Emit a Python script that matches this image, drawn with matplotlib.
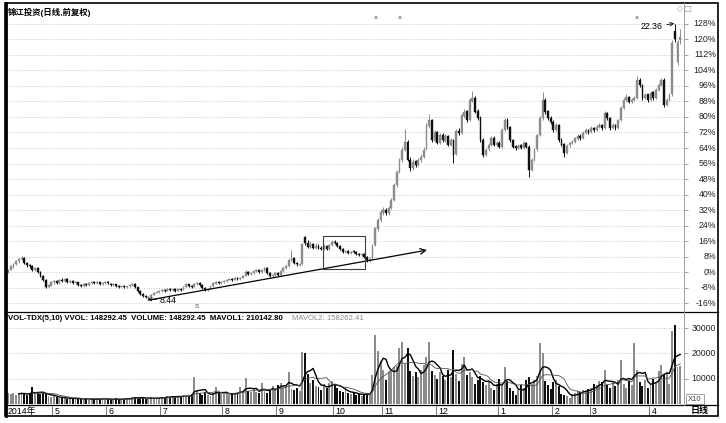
import matplotlib
matplotlib.use('Agg')
import matplotlib.pyplot as plt
from matplotlib.patches import Rectangle
from matplotlib.lines import Line2D
import matplotlib.transforms as mtransforms
import numpy as np
import pandas as pd

plt.rcParams['font.family'] = ['Liberation Sans', 'Noto Sans CJK SC', 'DejaVu Sans']

# ---- data ----
title = '锦江投资(日线,前复权)'
base_price = 9.80          # price at 0%
pct_ticks = list(range(-16, 129, 8))
vol_ticks = [10000, 20000, 30000]
month_labels = ['5', '6', '7', '8', '9', '10', '11', '12', '1', '2', '3', '4']
month_start = [17, 37, 57, 80, 100, 121, 139, 159, 182, 202, 216, 238]

opens = [
    9.82, 9.92, 10.08, 10.22, 10.34, 10.45, 10.50, 10.28, 10.18, 10.12, 9.88, 10.02, 9.82, 9.62, 9.42, 9.02, 9.12, 9.28,
    9.34, 9.25, 9.41, 9.34, 9.44, 9.30, 9.34, 9.25, 9.28, 9.15, 9.10, 9.20, 9.15, 9.23, 9.30, 9.23, 9.28, 9.18, 9.25, 9.30,
    9.22, 9.13, 9.18, 9.10, 9.05, 9.10, 9.04, 9.08, 9.15, 9.20,
    9.02, 8.85, 8.70, 8.60, 8.50, 8.55, 8.65, 8.75, 8.78, 8.84, 8.90, 8.84, 8.94, 8.88, 8.95, 8.84, 8.95,
    8.90, 9.05, 9.18, 9.10, 9.05, 9.18, 9.25, 9.15, 9.00, 8.88, 8.95, 9.08, 9.22, 9.30, 9.23, 9.28, 9.34, 9.40, 9.46, 9.40,
    9.50, 9.44, 9.50, 9.60, 9.82, 9.68, 9.74, 9.86, 9.92, 9.78, 9.88, 10.02, 9.76, 9.58, 9.66, 9.76, 9.64, 9.86, 10.02, 10.12,
    10.40, 10.50, 10.25, 10.18,
    10.22, 11.55, 11.28, 11.05, 11.20, 11.00, 11.14, 11.00, 10.95, 11.14, 10.95, 11.16, 11.34, 11.26, 11.12, 10.97, 10.80,
    10.88, 10.75, 10.82, 10.82, 10.72, 10.65, 10.72, 10.57, 10.40,
    10.50, 11.15, 12.00, 12.45, 12.80, 12.96, 12.78, 13.02, 13.45, 14.18, 14.88, 15.45, 15.98, 16.40, 15.45, 15.05, 15.40,
    15.20, 15.45, 15.60, 16.00, 17.20, 17.50, 16.45, 16.90, 16.30,
    16.75, 16.45, 16.70, 16.20, 16.50, 15.75, 16.95, 16.85, 17.70, 17.92, 17.50, 18.45, 18.62, 17.92, 17.60, 16.50, 15.70,
    16.00, 16.20, 16.60, 16.20, 16.35, 16.10, 17.00, 17.50, 17.15, 16.50, 16.15, 16.05, 16.20, 16.05, 16.35,
    16.10, 14.98, 15.45, 16.00, 16.75, 17.60, 18.50, 17.92, 17.60, 17.40, 17.00, 17.25, 16.50, 16.25, 15.80, 16.20, 16.35,
    16.40, 16.55, 16.70, 16.60, 16.85, 17.00, 16.90, 17.10, 17.00, 17.15, 17.25,
    17.10, 17.85, 17.60, 17.10, 17.25, 17.10, 17.50, 18.10, 18.50, 18.65, 18.40, 18.50, 18.60, 19.50, 19.25, 18.60, 18.78,
    18.50, 18.88, 18.60, 19.00, 19.25, 19.50, 18.25, 18.50, 18.80, 22.00, 20.40, 21.55,
]
highs = [
    9.98, 10.18, 10.28, 10.42, 10.52, 10.62, 10.55, 10.32, 10.22, 10.15, 10.08, 10.05, 9.85, 9.66, 9.45, 9.20, 9.35, 9.42,
    9.40, 9.46, 9.48, 9.52, 9.48, 9.40, 9.38, 9.33, 9.32, 9.20, 9.24, 9.24, 9.28, 9.34, 9.33, 9.33, 9.30, 9.28, 9.33, 9.34,
    9.26, 9.23, 9.22, 9.14, 9.12, 9.14, 9.12, 9.18, 9.24, 9.23,
    9.05, 8.88, 8.74, 8.64, 8.60, 8.68, 8.78, 8.84, 8.88, 8.94, 8.93, 8.98, 8.97, 8.98, 8.97, 8.98, 8.98,
    9.08, 9.24, 9.22, 9.14, 9.24, 9.30, 9.28, 9.18, 9.04, 8.98, 9.12, 9.28, 9.34, 9.33, 9.34, 9.39, 9.44, 9.50, 9.50, 9.54,
    9.54, 9.55, 9.65, 9.90, 9.84, 9.80, 9.90, 9.98, 9.95, 9.95, 10.06, 10.05, 9.80, 9.72, 9.80, 9.80, 9.90, 10.05, 10.18, 10.48,
    10.90, 10.55, 10.32, 10.28,
    11.25, 11.60, 11.40, 11.35, 11.28, 11.25, 11.20, 11.10, 11.20, 11.18, 11.24, 11.42, 11.40, 11.30, 11.16, 11.00, 10.94,
    10.92, 10.86, 10.90, 10.88, 10.78, 10.76, 10.76, 10.62, 10.55,
    11.20, 12.10, 12.55, 12.98, 13.10, 13.05, 13.12, 13.55, 14.30, 14.98, 15.55, 16.10, 17.05, 16.50, 15.60, 15.50, 15.45,
    15.55, 15.75, 16.10, 17.35, 17.80, 17.55, 17.00, 16.95, 16.85,
    16.85, 16.80, 16.75, 16.60, 16.55, 17.05, 17.10, 17.85, 18.05, 18.00, 18.60, 18.95, 18.70, 18.05, 17.70, 16.60, 16.05,
    16.30, 16.70, 16.70, 16.45, 16.45, 17.10, 17.60, 17.60, 17.20, 16.55, 16.20, 16.25, 16.25, 16.45, 16.40,
    16.20, 15.55, 16.05, 16.80, 17.70, 18.90, 18.60, 18.00, 17.70, 17.50, 17.35, 17.30, 16.60, 16.30, 16.25, 16.40, 16.50,
    16.65, 16.80, 16.80, 16.95, 17.10, 17.05, 17.20, 17.15, 17.25, 17.35, 17.30,
    17.95, 17.90, 17.65, 17.35, 17.30, 17.55, 18.20, 18.60, 18.80, 18.70, 18.60, 18.70, 19.70, 19.60, 19.30, 18.85, 18.80,
    18.95, 18.95, 19.10, 19.35, 19.60, 19.60, 18.60, 18.85, 21.55, 22.36, 21.55, 22.10,
]
lows = [
    9.75, 9.88, 10.02, 10.15, 10.28, 10.40, 10.20, 10.08, 10.02, 9.85, 9.84, 9.76, 9.55, 9.35, 8.98, 8.98, 9.08, 9.22,
    9.18, 9.20, 9.30, 9.30, 9.25, 9.26, 9.20, 9.20, 9.10, 9.05, 9.06, 9.10, 9.12, 9.20, 9.20, 9.20, 9.15, 9.15, 9.22, 9.20,
    9.10, 9.10, 9.05, 9.00, 9.02, 9.00, 9.00, 9.04, 9.12, 9.00,
    8.80, 8.64, 8.55, 8.50, 8.44, 8.52, 8.62, 8.72, 8.75, 8.80, 8.80, 8.82, 8.85, 8.86, 8.80, 8.82, 8.85,
    8.88, 9.02, 9.05, 9.00, 9.02, 9.15, 9.10, 8.95, 8.85, 8.85, 8.92, 9.05, 9.20, 9.20, 9.22, 9.26, 9.32, 9.38, 9.36, 9.38,
    9.42, 9.42, 9.48, 9.58, 9.66, 9.64, 9.72, 9.82, 9.76, 9.75, 9.86, 9.72, 9.55, 9.55, 9.62, 9.60, 9.62, 9.82, 9.98, 10.08,
    10.36, 10.20, 10.12, 10.10,
    10.18, 11.15, 11.00, 11.00, 10.96, 10.95, 10.96, 10.90, 10.90, 10.90, 10.90, 11.10, 11.20, 11.08, 10.92, 10.76, 10.76,
    10.70, 10.72, 10.74, 10.66, 10.60, 10.60, 10.50, 10.32, 10.30,
    10.45, 11.10, 11.90, 12.35, 12.70, 12.68, 12.70, 12.98, 13.40, 14.10, 14.80, 15.38, 15.90, 15.40, 14.90, 14.98, 15.10,
    15.15, 15.38, 15.55, 15.95, 17.10, 16.40, 16.42, 16.25, 16.25,
    16.40, 16.40, 16.15, 16.15, 15.30, 15.70, 16.75, 16.80, 17.60, 17.40, 17.45, 18.40, 17.85, 17.50, 16.40, 15.60, 15.65,
    15.92, 16.15, 16.15, 16.15, 16.05, 16.05, 16.95, 17.05, 16.40, 16.05, 15.98, 16.00, 16.00, 16.00, 16.05,
    14.60, 14.90, 15.40, 15.92, 16.70, 17.50, 17.80, 17.50, 17.30, 16.90, 16.95, 16.40, 16.15, 15.60, 15.75, 16.12, 16.28,
    16.35, 16.50, 16.50, 16.55, 16.80, 16.80, 16.85, 16.90, 16.95, 17.10, 17.00,
    17.05, 17.50, 17.00, 17.05, 17.00, 17.05, 17.45, 18.05, 18.40, 18.35, 18.35, 18.45, 18.55, 19.15, 18.50, 18.55, 18.40,
    18.45, 18.50, 18.55, 18.95, 19.20, 18.15, 18.20, 18.45, 18.70, 21.45, 20.25, 21.35,
]
closes = [
    9.90, 10.10, 10.20, 10.36, 10.46, 10.51, 10.26, 10.15, 10.10, 9.90, 10.00, 9.80, 9.60, 9.40, 9.04, 9.14, 9.29, 9.35,
    9.24, 9.40, 9.35, 9.45, 9.29, 9.35, 9.24, 9.29, 9.14, 9.09, 9.19, 9.14, 9.24, 9.29, 9.24, 9.29, 9.19, 9.24, 9.29, 9.24,
    9.14, 9.19, 9.09, 9.04, 9.09, 9.04, 9.09, 9.14, 9.19, 9.04,
    8.84, 8.69, 8.59, 8.54, 8.54, 8.64, 8.74, 8.79, 8.84, 8.89, 8.84, 8.94, 8.89, 8.94, 8.84, 8.94, 8.89,
    9.04, 9.19, 9.09, 9.04, 9.19, 9.24, 9.14, 8.99, 8.89, 8.94, 9.09, 9.24, 9.29, 9.24, 9.29, 9.35, 9.40, 9.45, 9.40, 9.50,
    9.45, 9.50, 9.60, 9.80, 9.70, 9.75, 9.85, 9.90, 9.80, 9.90, 10.00, 9.75, 9.60, 9.65, 9.75, 9.65, 9.85, 10.00, 10.10, 10.41,
    10.51, 10.26, 10.20, 10.20,
    11.20, 11.27, 11.07, 11.22, 11.01, 11.12, 11.01, 10.96, 11.12, 10.96, 11.17, 11.32, 11.27, 11.12, 10.96, 10.81, 10.86,
    10.76, 10.81, 10.81, 10.71, 10.66, 10.71, 10.56, 10.41, 10.46,
    11.12, 12.03, 12.43, 12.84, 12.94, 12.79, 13.04, 13.44, 14.20, 14.86, 15.47, 15.97, 16.38, 15.47, 15.06, 15.37, 15.21,
    15.47, 15.62, 15.97, 17.24, 17.49, 16.48, 16.88, 16.33, 16.73,
    16.48, 16.68, 16.23, 16.48, 15.72, 16.94, 16.83, 17.74, 17.90, 17.49, 18.50, 18.60, 17.90, 17.59, 16.48, 15.72, 15.97,
    16.23, 16.58, 16.23, 16.33, 16.13, 16.99, 17.49, 17.14, 16.48, 16.13, 16.08, 16.18, 16.08, 16.33, 16.13,
    14.96, 15.47, 15.97, 16.73, 17.59, 18.50, 17.90, 17.59, 17.39, 16.99, 17.24, 16.48, 16.23, 15.82, 16.18, 16.33, 16.38,
    16.58, 16.68, 16.58, 16.83, 16.99, 16.88, 17.09, 16.99, 17.14, 17.24, 17.09,
    17.85, 17.59, 17.09, 17.24, 17.09, 17.49, 18.10, 18.50, 18.66, 18.40, 18.50, 18.60, 19.52, 19.26, 18.60, 18.76, 18.50,
    18.86, 18.60, 19.01, 19.26, 19.52, 18.25, 18.50, 18.76, 21.40, 21.60, 21.45, 21.70,
]
# volume in chart units (x10)
volumes = [
    4300, 3800, 4500, 3600, 4200, 4600, 3900, 3500, 4000, 6700, 4200, 4400, 3800, 4300, 4100, 3000, 2800, 3200,
    2600, 2400, 2200, 2500, 2000, 2300, 1900, 2100, 2400, 1800, 2200, 1900, 1700, 2000, 1800, 2300, 1900, 2100, 1700, 2000,
    1800, 1600, 2200, 1900, 1800, 2100, 2400, 2000, 2600, 2900, 2300, 2500, 2200, 2000, 2400, 2600, 2100, 2300, 2500, 2800,
    2600, 3000, 2800, 3200, 2700, 3100, 2900, 3400, 3300, 3000, 3800, 10700, 5200, 4400, 3600, 4800, 3500, 3200, 4200, 6700,
    4500, 3900,
    3800, 4200, 3600, 4400, 4000, 4500, 6700, 4300, 10300, 5200, 4600, 5800, 4900, 4400, 8300, 5000, 4300, 5600, 7100, 6200,
    7500, 8200, 6800, 7400, 12600, 5800, 5400, 6500, 5200,
    20500, 20000, 12000, 8300, 9500, 7200, 6800, 5500, 7800, 6400, 8200, 9000, 7400, 6200, 5300, 4800, 5600, 4200, 3900,
    4500, 3600, 4000, 3300, 3800, 4400, 4100,
    11500, 27300, 21000, 17000, 13500, 9500, 12500, 14000, 14500, 15000, 22000, 24500, 16000, 22000, 13000, 11000, 12500,
    10500, 13500, 15400, 18500, 24500, 13000, 11500, 9800, 12800,
    11000, 9500, 13500, 10500, 21300, 12000, 9000, 16000, 18600, 11500, 12600, 10500, 8000, 9500, 11000, 8500, 7500, 9000,
    6500, 5500, 8000, 10000, 7000, 14600, 9000, 6500, 5000, 3500, 5500, 7500, 6500, 9500,
    10500, 8000, 9500, 11000, 24000, 20000, 9000, 7500, 6000, 8500, 9500, 7000, 4000, 3500, 3000, 2500, 3800, 4500, 5000,
    4800, 5500, 5200, 5800, 6500, 8000, 7500, 9000, 8500,
    13400, 7500, 6500, 8500, 7000, 9500, 17400, 8000, 6500, 9000, 7500, 24000, 13400, 8500, 7000, 9500, 6500, 7500, 10000,
    8500, 13000, 15500, 11500, 12500, 8000, 29000, 31300, 14600, 14829,
]
vol_header = 'VOL-TDX(5,10) VVOL: 148292.45  VOLUME: 148292.45  MAVOL1: 210142.80'
vol_header2 = 'MAVOL2: 158262.41'
event_days = [136, 145, 233]

df = pd.DataFrame({'open': opens, 'high': highs, 'low': lows, 'close': closes, 'vol': volumes})
df['ma5'] = df['vol'].rolling(5).mean()
df['ma10'] = df['vol'].rolling(10).mean()
n = len(df)
x = np.arange(n)

W, H = 726, 423
def fx(px):
    return px / W
def fy(py):
    return 1 - py / H

UP = '#8c8c8c'
DOWN = '#101010'
colors = np.where(df['close'] >= df['open'], UP, DOWN)

fig = plt.figure(figsize=(W / 100, H / 100), dpi=100)
fig.patch.set_facecolor('white')

xlim = (-0.75, 250.4)

def price_of_pct(p):
    return base_price * (1 + p / 100.0)

# ---- price panel ----
ax = fig.add_axes([fx(6), fy(312), fx(678), 309 / H])
ax.set_xlim(*xlim)
ax.set_ylim(price_of_pct(-20.6), price_of_pct(138.8))
tick_prices = [price_of_pct(p) for p in pct_ticks]
ax.set_yticks(tick_prices)
ax.yaxis.set_ticks_position('right')
ax.tick_params(axis='y', right=True, left=False, labelright=False, labelleft=False,
               direction='out', length=3, width=0.6, color='#909090')
ax.set_xticks([])
ax.grid(axis='y', color='#b8b8b8', lw=0.6, ls=(0, (1, 2)))
for s in ax.spines.values():
    s.set_visible(False)

ax.vlines(x, df['low'], df['high'], colors=colors, lw=0.7, zorder=2)
body = (df['close'] - df['open']).to_numpy()
body = np.where(np.abs(body) < 0.02, 0.02, body)
ax.bar(x, body, bottom=df['open'], width=0.68, color=colors, edgecolor=colors, lw=0.3, zorder=3)

lab_tr = mtransforms.blended_transform_factory(fig.transFigure, ax.transData)
for p, tp in zip(pct_ticks, tick_prices):
    ax.text(fx(716), tp, f'{p}%', transform=lab_tr, ha='right', va='center', fontsize=6.3, color='#202020')

# low / high marks
lo_i = int(np.argmin(df['low']))
hi_i = int(np.argmax(df['high']))
ax.annotate(f"{df['low'][lo_i]:.2f}", xy=(lo_i - 0.3, df['low'][lo_i]), xytext=(lo_i + 4.0, df['low'][lo_i] - 0.06),
            fontsize=6.3, ha='left', va='center',
            arrowprops=dict(arrowstyle='->', lw=0.6, color='black', shrinkA=0, shrinkB=0))
ax.annotate(f"{df['high'][hi_i]:.2f}", xy=(hi_i - 0.2, df['high'][hi_i]), xytext=(hi_i - 4.5, df['high'][hi_i] - 0.14),
            fontsize=6.3, ha='right', va='center',
            arrowprops=dict(arrowstyle='->', lw=0.6, color='black', shrinkA=1, shrinkB=0))

# trend line and box drawn on the chart
ax.annotate('', xy=(155.2, 10.91), xytext=(52.0, 8.38),
            arrowprops=dict(arrowstyle='->', lw=0.9, color='black', shrinkA=0, shrinkB=0))
ax.add_patch(Rectangle((116.7, 9.95), 15.5, 1.68, fill=False, ec='#404040', lw=0.8, zorder=4))

for d in event_days:
    ax.text(d, price_of_pct(131), '×', fontsize=5, ha='center', va='center', color='#404040')
ax.text(70, 8.05, 'S', fontsize=4.5, ha='center', va='center', color='#404040')

# ---- volume panel ----
axv = fig.add_axes([fx(6), fy(405), fx(678), 93 / H])
axv.set_xlim(*xlim)
axv.set_ylim(-395, 36350)
axv.set_yticks(vol_ticks)
axv.yaxis.set_ticks_position('right')
axv.tick_params(axis='y', right=True, left=False, labelright=False, labelleft=False,
                direction='out', length=3, width=0.6, color='#909090')
axv.set_xticks([])
axv.grid(axis='y', color='#b8b8b8', lw=0.6, ls=(0, (1, 2)))
for s in axv.spines.values():
    s.set_visible(False)
axv.bar(x, df['vol'], width=0.72, color=colors, lw=0, zorder=2)
axv.plot(x, df['ma5'], color='black', lw=1.0, zorder=3)
axv.plot(x, df['ma10'], color='#505050', lw=0.6, zorder=3)
vtr = mtransforms.blended_transform_factory(fig.transFigure, axv.transData)
for v in vol_ticks:
    axv.text(fx(716), v, f'{v}', transform=vtr, ha='right', va='center', fontsize=6.3, color='#202020')

fig.text(fx(8), fy(318), vol_header, fontsize=5.6, fontweight='bold', ha='left', va='center')
fig.text(fx(292), fy(318), vol_header2, fontsize=5.6, ha='left', va='center', color='#8a8a8a')

# ---- date row ----
axd = fig.add_axes([fx(6), fy(416), fx(678), 11 / H])
axd.set_xlim(*xlim)
axd.set_ylim(0, 1)
axd.axis('off')
axd.text(0.0, 0.45, '2014年', fontsize=6.3, ha='left', va='center')
for m, lbl in zip(month_start, month_labels):
    axd.vlines(m - 0.6, 0.05, 0.9, color='#606060', lw=0.6)
    axd.text(m + 0.3, 0.45, lbl, fontsize=6.3, ha='left', va='center')

# ---- frame and labels ----
fig.add_artist(Rectangle((fx(5), fy(416)), fx(713), 413 / H, transform=fig.transFigure,
                         fill=False, ec='black', lw=1.2))
fig.add_artist(Line2D([fx(5.5), fx(5.5)], [fy(3), fy(416)], transform=fig.transFigure, color='black', lw=2.0))
for yy in (312, 405):
    fig.add_artist(Line2D([fx(5), fx(718)], [fy(yy), fy(yy)], transform=fig.transFigure, color='black', lw=0.9))
fig.add_artist(Line2D([fx(684), fx(684)], [fy(3), fy(405)], transform=fig.transFigure, color='#a0a0a0', lw=0.7))

fig.text(fx(8), fy(12), title, fontsize=6, fontweight='bold', ha='left', va='center')
fig.text(fx(680), fy(9), '◇', fontsize=5.5, ha='center', va='center', color='#909090', family='DejaVu Sans')
fig.text(fx(687), fy(9), '□', fontsize=6, ha='center', va='center', color='#909090', family='DejaVu Sans')

fig.add_artist(Rectangle((fx(686), fy(404)), fx(18), 10 / H, transform=fig.transFigure,
                         fill=False, ec='#909090', lw=0.6))
fig.text(fx(695), fy(399), 'X10', fontsize=5.5, ha='center', va='center', color='#404040')
fig.text(fx(700), fy(410.5), '日线', fontsize=6.5, fontweight='bold', ha='center', va='center')

fig.savefig('out.png', dpi=100)
